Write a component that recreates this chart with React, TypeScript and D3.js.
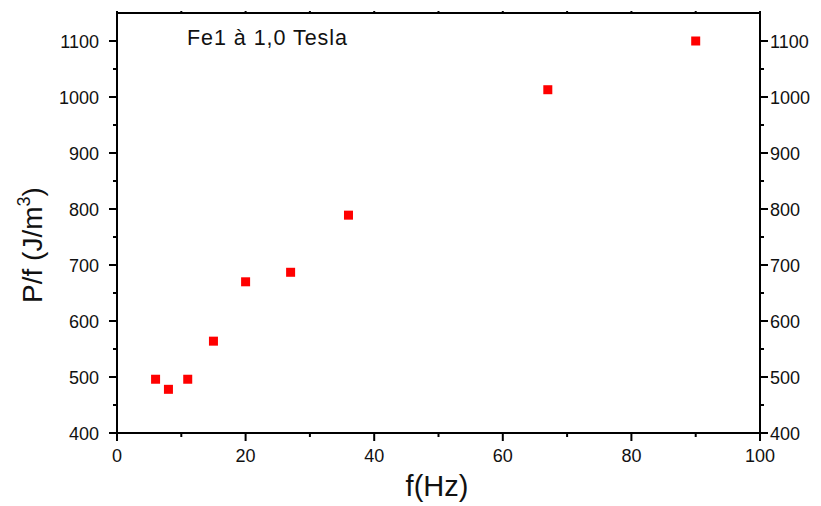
import React from "react";
import * as d3 from "d3";

const freqHz = [6, 8, 11, 15, 20, 27, 36, 67, 90];
const pOverF = [496, 478, 496, 564, 670, 687, 789, 1013, 1100];
const xTicks = [0, 20, 40, 60, 80, 100];
const yTicks = [400, 500, 600, 700, 800, 900, 1000, 1100];
const annotation = "Fe1 à 1,0 Tesla";

const W = 821, H = 506;
const L = 117, R = 760, T = 13, B = 433;
const FONT = "'Liberation Sans', Arial, sans-serif";

export default function App() {
  const x = d3.scaleLinear().domain([0, 100]).range([L, R]);
  const y = d3.scaleLinear().domain([400, 1150]).range([B, T]);
  const xMinor = d3.range(10, 100, 20);
  const yMinor = d3.range(450, 1150, 100);
  const sq = 9;
  return (
    <svg width={W} height={H} style={{ position: "absolute", left: 0, top: 0 }} fontFamily={FONT}>
      <rect width={W} height={H} fill="white" />
      <rect x={L} y={T} width={R - L} height={B - T} fill="none" stroke="black" strokeWidth={2} />
      {xTicks.map((t) => (
        <g key={"xb" + t}>
          <line x1={x(t)} x2={x(t)} y1={B} y2={B + 8} stroke="black" strokeWidth={2} />
          <text x={x(t)} y={B + 29} fontSize={18} textAnchor="middle" fill="#111">{t}</text>
          <line x1={x(t)} x2={x(t)} y1={T} y2={T - 2} stroke="black" strokeWidth={2} />
        </g>
      ))}
      {xMinor.map((t) => (
        <g key={"xm" + t}>
          <line x1={x(t)} x2={x(t)} y1={B} y2={B + 4} stroke="black" strokeWidth={2} />
          <line x1={x(t)} x2={x(t)} y1={T} y2={T - 2} stroke="black" strokeWidth={2} />
        </g>
      ))}
      {yTicks.map((t) => (
        <g key={"y" + t}>
          <line x1={L} x2={L - 8} y1={y(t)} y2={y(t)} stroke="black" strokeWidth={2} />
          <line x1={R} x2={R + 8} y1={y(t)} y2={y(t)} stroke="black" strokeWidth={2} />
          <text x={L - 18} y={y(t) + 6.5} fontSize={18} textAnchor="end" fill="#111">{t}</text>
          <text x={R + 10} y={y(t) + 6.5} fontSize={18} textAnchor="start" fill="#111">{t}</text>
        </g>
      ))}
      {yMinor.map((t) => (
        <g key={"ym" + t}>
          <line x1={L} x2={L - 4} y1={y(t)} y2={y(t)} stroke="black" strokeWidth={2} />
          <line x1={R} x2={R + 4} y1={y(t)} y2={y(t)} stroke="black" strokeWidth={2} />
        </g>
      ))}
      {freqHz.map((f, i) => (
        <rect key={"p" + i} x={x(f) - sq / 2} y={y(pOverF[i]) - sq / 2} width={sq} height={sq} fill="#ff0000" />
      ))}
      <text x={437} y={496} fontSize={29} textAnchor="middle" fill="#111">f(Hz)</text>
      <text transform={`translate(42, 245) rotate(-90)`} fontSize={28} textAnchor="middle" fill="#111">
        P/f (J/m<tspan fontSize={18} dy={-12}>3</tspan><tspan dy={12}>)</tspan>
      </text>
      <text x={187} y={45} fontSize={21.5} fill="#111" textLength={160}>{annotation}</text>
    </svg>
  );
}
